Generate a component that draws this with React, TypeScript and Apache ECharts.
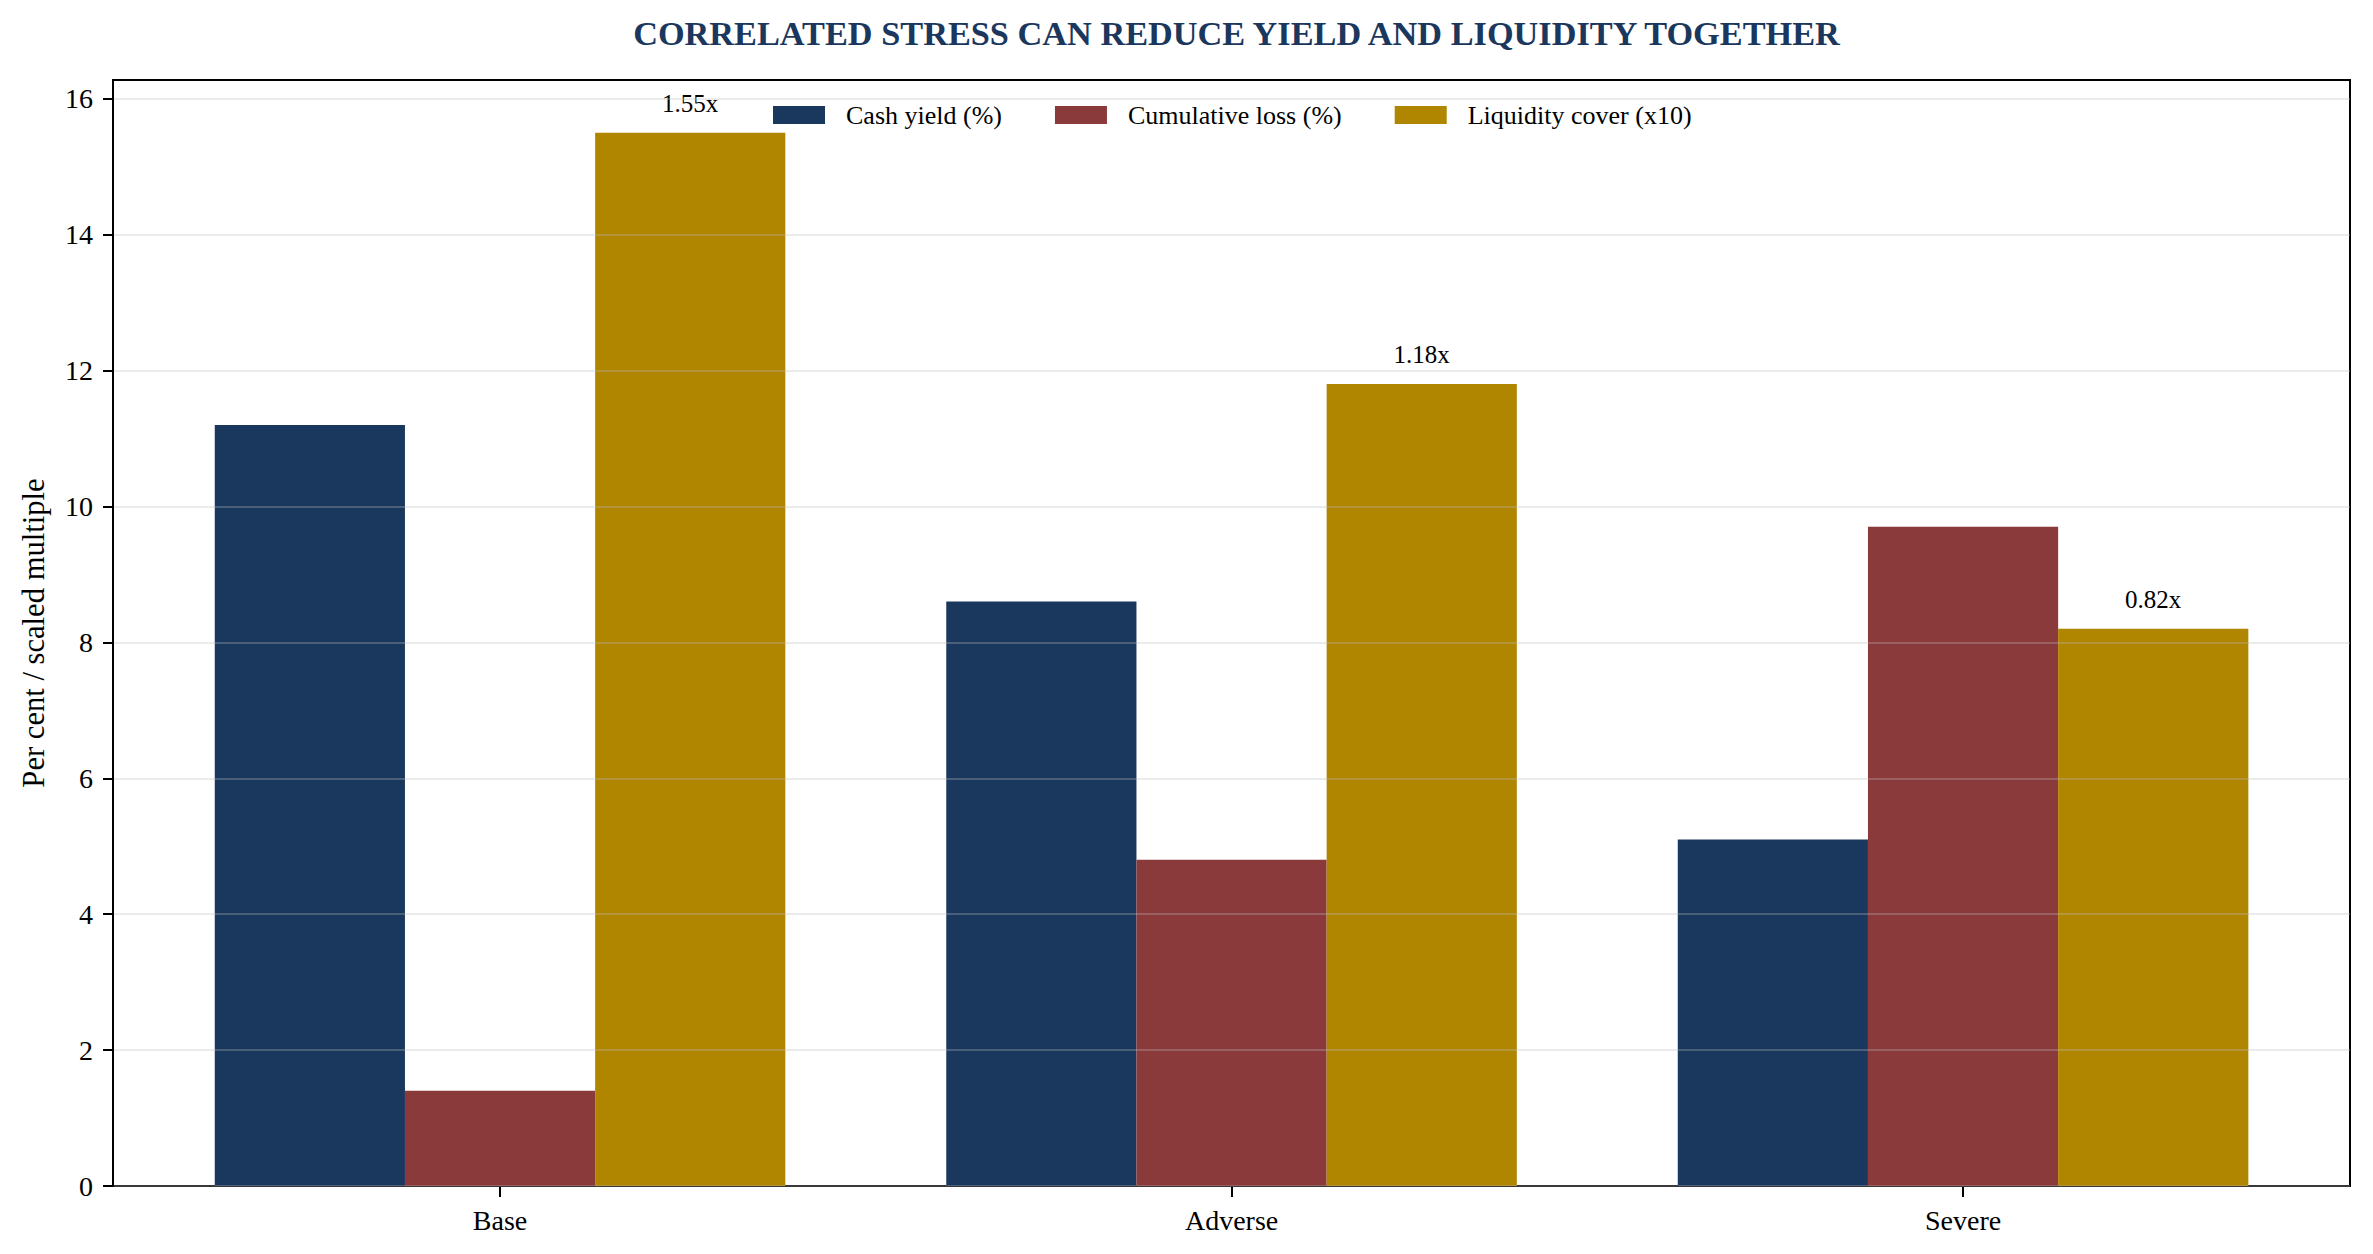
import React, { useEffect, useRef } from "react";
import * as echarts from "echarts";

const categories = ["Base", "Adverse", "Severe"];
const cashYield = [11.2, 8.6, 5.1];
const cumulativeLoss = [1.4, 4.8, 9.7];
const liquidityCover = [15.5, 11.8, 8.2];
const coverLabels = ["1.55x", "1.18x", "0.82x"];
const yTicks = [0, 2, 4, 6, 8, 10, 12, 14, 16];
const seriesNames = ["Cash yield (%)", "Cumulative loss (%)", "Liquidity cover (x10)"];
const colors = ["#1a375d", "#8b3a3c", "#b08500"];

const FONT = "'Liberation Serif', 'Times New Roman', serif";
const Y_MAX = 16.275;

export default function App() {
  const ref = useRef<HTMLDivElement>(null);
  useEffect(() => {
    document.body.style.margin = "0";
    if (!ref.current) return;
    const chart = echarts.init(ref.current, null, { renderer: "svg" });
    const option: any = {
      animation: false,
      backgroundColor: "#ffffff",
      textStyle: { fontFamily: FONT },
      title: {
        text: "CORRELATED STRESS CAN REDUCE YIELD AND LIQUIDITY TOGETHER",
        left: 1231.5,
        textAlign: "center",
        top: 11,
        textStyle: { fontFamily: FONT, fontSize: 34.3, fontWeight: "bold", color: "#1b375d" },
      },
      legend: {
        data: seriesNames,
        left: 768,
        top: 97,
        itemWidth: 52,
        itemHeight: 18,
        itemGap: 53,
        icon: "rect",
        textStyle: { fontFamily: FONT, fontSize: 26, color: "#000", padding: [0, 0, 0, 16] },
      },
      grid: [
        { left: 113, right: 23, top: 80, bottom: 68, show: true, borderColor: "#000", borderWidth: 2, backgroundColor: "transparent", z: 0 },
        { left: 134.3, right: 44.2, top: 80, bottom: 68, show: false },
      ],
      xAxis: [
        { type: "value", gridIndex: 0, min: 0, max: 1, show: false },
        {
          type: "category",
          gridIndex: 1,
          data: categories,
          axisLine: { show: false },
          axisTick: { show: true, alignWithLabel: true, length: 11, lineStyle: { color: "#000", width: 2 } },
          axisLabel: { fontFamily: FONT, fontSize: 28, color: "#000", margin: 20 },
          splitLine: { show: false },
        },
      ],
      yAxis: [
        {
          type: "value",
          gridIndex: 0,
          min: 0,
          max: Y_MAX,
          interval: 2,
          z: 5,
          name: "Per cent / scaled multiple",
          nameLocation: "middle",
          nameGap: 64,
          nameTextStyle: { fontFamily: FONT, fontSize: 30.6, color: "#000" },
          axisLine: { show: true, lineStyle: { color: "#000", width: 2 } },
          axisTick: { show: true, length: 10, lineStyle: { color: "#000", width: 2 }, customValues: yTicks },
          axisLabel: { fontFamily: FONT, fontSize: 28, color: "#000", margin: 20, customValues: yTicks },
          splitLine: { show: true, lineStyle: { color: "rgba(190,190,190,0.3)", width: 2 } },
        },
        { type: "value", gridIndex: 1, min: 0, max: Y_MAX, show: false },
      ],
      series: [
        {
          name: seriesNames[0],
          type: "bar",
          xAxisIndex: 1,
          yAxisIndex: 1,
          data: cashYield,
          barWidth: "26%",
          barGap: "0%",
          itemStyle: { color: colors[0] },
        },
        {
          name: seriesNames[1],
          type: "bar",
          xAxisIndex: 1,
          yAxisIndex: 1,
          data: cumulativeLoss,
          barWidth: "26%",
          barGap: "0%",
          itemStyle: { color: colors[1] },
        },
        {
          name: seriesNames[2],
          type: "bar",
          xAxisIndex: 1,
          yAxisIndex: 1,
          data: liquidityCover,
          barWidth: "26%",
          barGap: "0%",
          itemStyle: { color: colors[2] },
          label: {
            show: true,
            position: "top",
            distance: 17,
            fontFamily: FONT,
            fontSize: 25,
            color: "#000",
            formatter: (p: any) => coverLabels[p.dataIndex],
          },
        },
      ],
    };
    chart.setOption(option);
    return () => chart.dispose();
  }, []);
  return <div ref={ref} style={{ width: 2373, height: 1254 }} />;
}
